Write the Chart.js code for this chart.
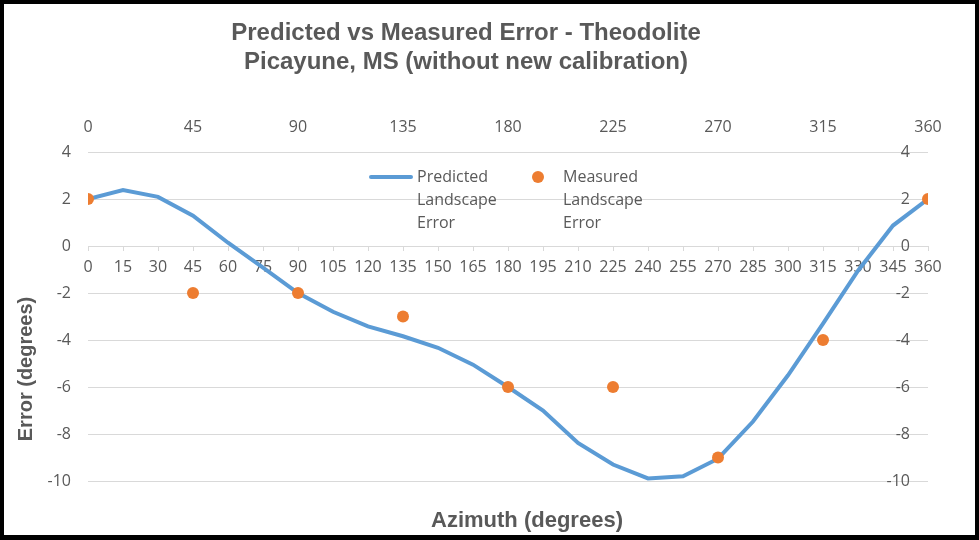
<!DOCTYPE html>
<html>
<head>
  <script src="https://cdn.jsdelivr.net/npm/chart.js"></script>
    <title>Predicted vs Measured Error - Theodolite</title>
    <style>
        body {
            margin: 0;
            background: white;
        }

        .frame {
            width: 979px;
            height: 540px;
            box-sizing: border-box;
            border: 4px solid #000;
            border-bottom-width: 5px;
            background: white;
        }

        canvas {
            display: block;
        }
    </style>
</head>
<body>
    <div class="frame">
        <canvas id="errorChart" width="971" height="531"></canvas>
    </div>

    <script>
// Datos
const azimuth = [0, 15, 30, 45, 60, 75, 90, 105, 120, 135, 150, 165, 180,
                 195, 210, 225, 240, 255, 270, 285, 300, 315, 330, 345, 360];
const predictedError = [2.0, 2.38, 2.09, 1.29, 0.14, -0.92, -2.0, -2.8, -3.42, -3.84, -4.33, -5.05, -6.0,
                        -7.0, -8.38, -9.3, -9.89, -9.8, -9.05, -7.47, -5.5, -3.3, -1.05, 0.87, 2.0];
const measuredAzimuth = [0, 45, 90, 135, 180, 225, 270, 315, 360];
const measuredError = [2, -2, -2, -3, -6, -6, -9, -4, 2];

const chartTitle = ['Predicted vs Measured Error - Theodolite', 'Picayune, MS (without new calibration)'];
const xTitle = 'Azimuth (degrees)';
const yTitle = 'Error (degrees)';
const predictedLabel = ['Predicted', 'Landscape', 'Error'];
const measuredLabel = ['Measured', 'Landscape', 'Error'];

const blue = '#5b9bd5';
const orange = '#ed7d31';
const textColor = '#595959';
const gridColor = '#d9d9d9';
const tickFont = { family: '"Open Sans", sans-serif', size: 16 };

// Titulos de ejes y leyenda dentro del area del grafico
const extras = {
    id: 'extras',
    afterDraw(chart) {
        const ctx = chart.ctx;
        const area = chart.chartArea;
        const cx = (area.left + area.right) / 2;
        ctx.save();
        ctx.fillStyle = textColor;
        ctx.textAlign = 'center';
        ctx.textBaseline = 'middle';
        ctx.font = 'bold 22px "Liberation Sans", Arial, sans-serif';
        ctx.fillText(xTitle, cx + 19, chart.height - 14);

        // leyenda
        const ly = area.top + 25;
        ctx.font = '16px "Open Sans", sans-serif';
        ctx.textAlign = 'left';
        predictedLabel.forEach((t, i) => ctx.fillText(t, cx - 91, ly + i * 23));
        measuredLabel.forEach((t, i) => ctx.fillText(t, cx + 55, ly + i * 23));
        ctx.strokeStyle = blue;
        ctx.lineWidth = 4;
        ctx.lineCap = 'round';
        ctx.beginPath();
        ctx.moveTo(cx - 137, ly);
        ctx.lineTo(cx - 97, ly);
        ctx.stroke();
        ctx.fillStyle = orange;
        ctx.beginPath();
        ctx.arc(cx + 30, ly, 6, 0, Math.PI * 2);
        ctx.fill();

        ctx.fillStyle = textColor;
        ctx.textAlign = 'center';
        ctx.translate(22, area.bottom - 112);
        ctx.rotate(-Math.PI / 2);
        ctx.font = 'bold 20px "Liberation Sans", Arial, sans-serif';
        ctx.fillText(yTitle, 0, 0);
        ctx.restore();
    }
};

new Chart(document.getElementById('errorChart'), {
    type: 'line',
    data: {
        datasets: [{
            label: 'Predicted Landscape Error',
            data: azimuth.map((a, i) => ({ x: a, y: predictedError[i] })),
            borderColor: blue,
            backgroundColor: blue,
            borderWidth: 4,
            pointRadius: 0,
            tension: 0,
            order: 1
        }, {
            label: 'Measured Landscape Error',
            data: measuredAzimuth.map((a, i) => ({ x: a, y: measuredError[i] })),
            showLine: false,
            backgroundColor: orange,
            borderColor: orange,
            borderWidth: 0,
            pointRadius: 6,
            pointHoverRadius: 6,
            order: 0
        }]
    },
    options: {
        responsive: false,
        animation: false,
        devicePixelRatio: 1,
        layout: {
            padding: { left: 0, right: 47, top: 0, bottom: 54 }
        },
        scales: {
            x: {
                type: 'linear',
                position: { y: 0 },
                min: 0,
                max: 360,
                ticks: {
                    stepSize: 15,
                    autoSkip: false,
                    maxRotation: 0,
                    padding: 7,
                    color: textColor,
                    font: tickFont
                },
                grid: {
                    drawOnChartArea: false,
                    drawTicks: true,
                    tickLength: 5,
                    color: gridColor
                },
                border: { display: false }
            },
            x2: {
                type: 'linear',
                position: 'top',
                min: 0,
                max: 360,
                ticks: {
                    stepSize: 45,
                    padding: 15,
                    maxRotation: 0,
                    color: textColor,
                    font: tickFont
                },
                grid: { display: false, drawTicks: false },
                border: { display: false },
                afterFit: s => { s.height = 65.4; }
            },
            y: {
                position: 'left',
                min: -10,
                max: 4,
                ticks: {
                    stepSize: 2,
                    padding: 17,
                    color: textColor,
                    font: tickFont
                },
                grid: { color: gridColor, drawTicks: false },
                border: { display: false },
                afterFit: s => { s.width = 84; }
            },
            y2: {
                position: 'right',
                min: -10,
                max: 4,
                ticks: {
                    stepSize: 2,
                    mirror: true,
                    padding: -18,
                    color: textColor,
                    font: tickFont
                },
                grid: { display: false, drawTicks: false },
                border: { display: false }
            }
        },
        plugins: {
            title: {
                display: true,
                text: chartTitle,
                color: textColor,
                font: { family: '"Liberation Sans", Arial, sans-serif', size: 24, weight: 'bold', lineHeight: 1.2 },
                padding: { top: 15, bottom: 10 }
            },
            legend: { display: false },
            tooltip: { enabled: false }
        }
    },
    plugins: [extras]
});
</script>
</body>
</html>
